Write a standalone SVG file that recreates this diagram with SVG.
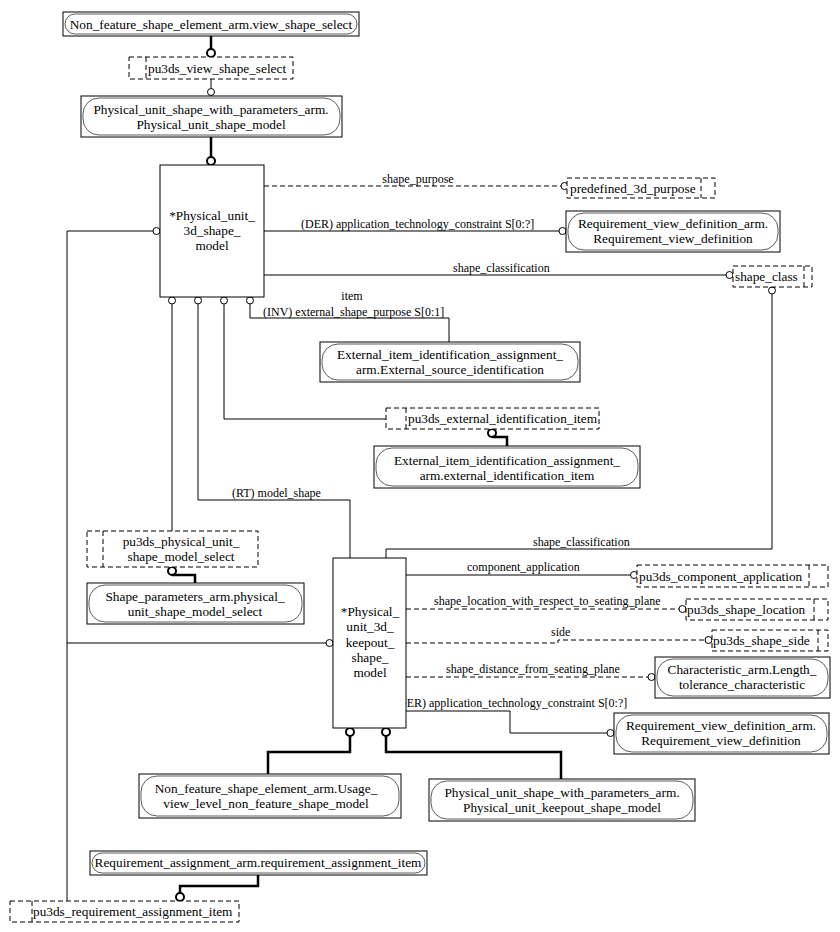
<svg xmlns="http://www.w3.org/2000/svg" width="840" height="932" viewBox="0 0 840 932">
<style>
.bx{fill:#fff;stroke:#000;stroke-width:1}
.pl{fill:none;stroke:#333;stroke-width:0.8}
.db{fill:#fff;stroke:#000;stroke-width:1;stroke-dasharray:5,3}
.dv{fill:none;stroke:#000;stroke-width:1;stroke-dasharray:5,3}
.t{font-family:"Liberation Serif","Times New Roman",serif;font-size:13.3px;fill:#000}
.lb{font-family:"Liberation Serif","Times New Roman",serif;font-size:12px;fill:#000}
.m{text-anchor:middle}
.ln{fill:none;stroke:#000;stroke-width:1}
.dl{fill:none;stroke:#000;stroke-width:1;stroke-dasharray:5,3}
.tk{fill:none;stroke:#000;stroke-width:2.5}
.c{fill:#fff;stroke:#000;stroke-width:1}
.ct{fill:#fff;stroke:#000;stroke-width:2}
</style>
<rect width="840" height="932" fill="#fff"/>
<g id="connectors">
<path class="tk" d="M211,36V49"/><circle class="ct" cx="211" cy="53" r="4"/>
<path class="ln" d="M211,79V88"/><circle class="c" cx="211" cy="92" r="3.5"/>
<path class="tk" d="M211,137V157"/><circle class="ct" cx="211" cy="161" r="4"/>
<path class="dl" d="M264,186H561"/><circle class="c" cx="564.5" cy="186" r="3.5"/>
<text class="lb m" x="418" y="183">shape_purpose</text>
<path class="ln" d="M264,231H559"/><circle class="c" cx="562.5" cy="231" r="3.5"/>
<text class="lb" x="301" y="228">(DER) application_technology_constraint S[0:?]</text>
<path class="ln" d="M264,275H726"/><circle class="c" cx="729.5" cy="275" r="3.5"/>
<text class="lb" x="453" y="272">shape_classification</text>
<circle class="c" cx="772" cy="290.5" r="3.5"/>
<path class="ln" d="M772,294V549H386V558"/>
<text class="lb" x="533" y="546">shape_classification</text>
<circle class="c" cx="172" cy="300.5" r="3.5"/>
<circle class="c" cx="198" cy="300.5" r="3.5"/>
<circle class="c" cx="224" cy="300.5" r="3.5"/>
<circle class="c" cx="250" cy="300.5" r="3.5"/>
<path class="ln" d="M250,304V318H449V342"/>
<text class="lb m" x="352" y="300">item</text>
<text class="lb" x="263" y="316">(INV) external_shape_purpose S[0:1]</text>
<path class="ln" d="M224,304V419H386"/>
<path class="ln" d="M198,304V500H350V558"/>
<text class="lb" x="232" y="497">(RT) model_shape</text>
<path class="ln" d="M172,304V531"/>
<circle class="ct" cx="492" cy="433" r="4"/><path class="tk" d="M492,437H507V446"/>
<circle class="ct" cx="172" cy="571" r="4"/><path class="tk" d="M172,575H195V583"/>
<circle class="c" cx="156.5" cy="231" r="3.5"/>
<path class="ln" d="M153,231H67V901"/>
<path class="ln" d="M67,643H326"/><circle class="c" cx="329.5" cy="643" r="3.5"/>
<path class="ln" d="M406,575H631"/><circle class="c" cx="634" cy="575" r="3.5"/>
<text class="lb" x="467" y="571">component_application</text>
<path class="dl" d="M406,609H679"/><circle class="c" cx="682.5" cy="609" r="3.5"/>
<text class="lb" x="434" y="605">shape_location_with_respect_to_seating_plane</text>
<path class="dl" d="M406,643H558V640H705"/><circle class="c" cx="708.5" cy="640" r="3.5"/>
<text class="lb" x="551" y="636">side</text>
<path class="dl" d="M406,677H648"/><circle class="c" cx="651.5" cy="677" r="3.5"/>
<text class="lb" x="446" y="673">shape_distance_from_seating_plane</text>
<path class="ln" d="M406,711H510V733H607"/><circle class="c" cx="610.5" cy="733" r="3.5"/>
<text class="lb" x="394" y="707">(DER) application_technology_constraint S[0:?]</text>
<circle class="ct" cx="350" cy="732" r="4"/><path class="tk" d="M350,736V752H268V774"/>
<circle class="ct" cx="386" cy="732" r="4"/><path class="tk" d="M386,736V752H561V779"/>
<path class="tk" d="M258,875V886H180V893"/><circle class="ct" cx="180" cy="897" r="4"/>
</g>
<g id="n1"><rect class="bx" x="63" y="12" width="296" height="24"/><rect class="pl" x="65" y="14" width="292" height="20" rx="10"/><text class="t m" x="211" y="28.5">Non_feature_shape_element_arm.view_shape_select</text></g>
<g id="n2"><rect class="db" x="129" y="57" width="164" height="22"/><path class="dv" d="M146,57V79"/><text class="t" x="148" y="72.5">pu3ds_view_shape_select</text></g>
<g id="n3"><rect class="bx" x="81" y="96" width="261" height="41"/><rect class="pl" x="83" y="98" width="257" height="37" rx="16"/><text class="t m" x="211" y="114">Physical_unit_shape_with_parameters_arm.</text><text class="t m" x="211" y="129">Physical_unit_shape_model</text></g>
<g id="n4"><rect class="bx" x="160" y="165" width="104" height="132"/><text class="t m" x="212" y="220">*Physical_unit_</text><text class="t m" x="212" y="235">3d_shape_</text><text class="t m" x="212" y="250">model</text></g>
<g id="n5"><rect class="db" x="567" y="178" width="148" height="20"/><path class="dv" d="M701,178V198"/><text class="t" x="570" y="192.5">predefined_3d_purpose</text></g>
<g id="n6"><rect class="bx" x="566" y="211" width="214" height="41"/><rect class="pl" x="568" y="213" width="210" height="37" rx="16"/><text class="t m" x="673" y="228">Requirement_view_definition_arm.</text><text class="t m" x="673" y="243">Requirement_view_definition</text></g>
<g id="n7"><rect class="db" x="733" y="266" width="79" height="21"/><path class="dv" d="M804,266V287"/><text class="t" x="735" y="280.5">shape_class</text></g>
<g id="n8"><rect class="bx" x="320" y="342" width="260" height="40"/><rect class="pl" x="322" y="344" width="256" height="36" rx="16"/><text class="t m" x="450" y="359">External_item_identification_assignment_</text><text class="t m" x="450" y="374">arm.External_source_identification</text></g>
<g id="n9"><rect class="db" x="386" y="408" width="213" height="21"/><path class="dv" d="M406,408V429"/><text class="t" x="408" y="423">pu3ds_external_identification_item</text></g>
<g id="n10"><rect class="bx" x="374" y="446" width="266" height="42"/><rect class="pl" x="376" y="448" width="262" height="38" rx="16"/><text class="t m" x="507" y="464.5">External_item_identification_assignment_</text><text class="t m" x="507" y="479.5">arm.external_identification_item</text></g>
<g id="n11"><rect class="db" x="87" y="531" width="171" height="36"/><path class="dv" d="M103,531V567"/><text class="t m" x="181" y="546">pu3ds_physical_unit_</text><text class="t m" x="181" y="561">shape_model_select</text></g>
<g id="n12"><rect class="bx" x="87" y="583" width="217" height="41"/><rect class="pl" x="89" y="585" width="213" height="37" rx="16"/><text class="t m" x="195" y="601">Shape_parameters_arm.physical_</text><text class="t m" x="195" y="616">unit_shape_model_select</text></g>
<g id="n13"><rect class="bx" x="333" y="558" width="73" height="170"/><text class="t m" x="370" y="616">*Physical_</text><text class="t m" x="370" y="631">unit_3d_</text><text class="t m" x="370" y="647">keepout_</text><text class="t m" x="370" y="662">shape_</text><text class="t m" x="370" y="677">model</text></g>
<g id="n14"><rect class="db" x="637" y="565" width="191" height="22"/><path class="dv" d="M809,565V587"/><text class="t" x="639" y="580.5">pu3ds_component_application</text></g>
<g id="n15"><rect class="db" x="686" y="599" width="142" height="21"/><path class="dv" d="M814,599V620"/><text class="t" x="687" y="614">pu3ds_shape_location</text></g>
<g id="n16"><rect class="db" x="712" y="630" width="116" height="21"/><path class="dv" d="M818,630V651"/><text class="t" x="713" y="645">pu3ds_shape_side</text></g>
<g id="n17"><rect class="bx" x="655" y="657" width="175" height="41"/><rect class="pl" x="657" y="659" width="171" height="37" rx="16"/><text class="t m" x="742" y="674">Characteristic_arm.Length_</text><text class="t m" x="742" y="689">tolerance_characteristic</text></g>
<g id="n18"><rect class="bx" x="614" y="713" width="215" height="41"/><rect class="pl" x="616" y="715" width="211" height="37" rx="16"/><text class="t m" x="721" y="730">Requirement_view_definition_arm.</text><text class="t m" x="721" y="745">Requirement_view_definition</text></g>
<g id="n19"><rect class="bx" x="139" y="774" width="262" height="44"/><rect class="pl" x="141" y="776" width="258" height="40" rx="16"/><text class="t m" x="266" y="793">Non_feature_shape_element_arm.Usage_</text><text class="t m" x="266" y="808">view_level_non_feature_shape_model</text></g>
<g id="n20"><rect class="bx" x="429" y="779" width="266" height="42"/><rect class="pl" x="431" y="781" width="262" height="38" rx="16"/><text class="t m" x="562" y="797">Physical_unit_shape_with_parameters_arm.</text><text class="t m" x="562" y="812">Physical_unit_keepout_shape_model</text></g>
<g id="n21"><rect class="bx" x="90" y="851" width="337" height="24"/><rect class="pl" x="92" y="853" width="333" height="20" rx="10"/><text class="t m" x="258" y="867">Requirement_assignment_arm.requirement_assignment_item</text></g>
<g id="n22"><rect class="db" x="10" y="901" width="229" height="21"/><path class="dv" d="M32,901V922"/><text class="t" x="33" y="916">pu3ds_requirement_assignment_item</text></g>
</svg>
